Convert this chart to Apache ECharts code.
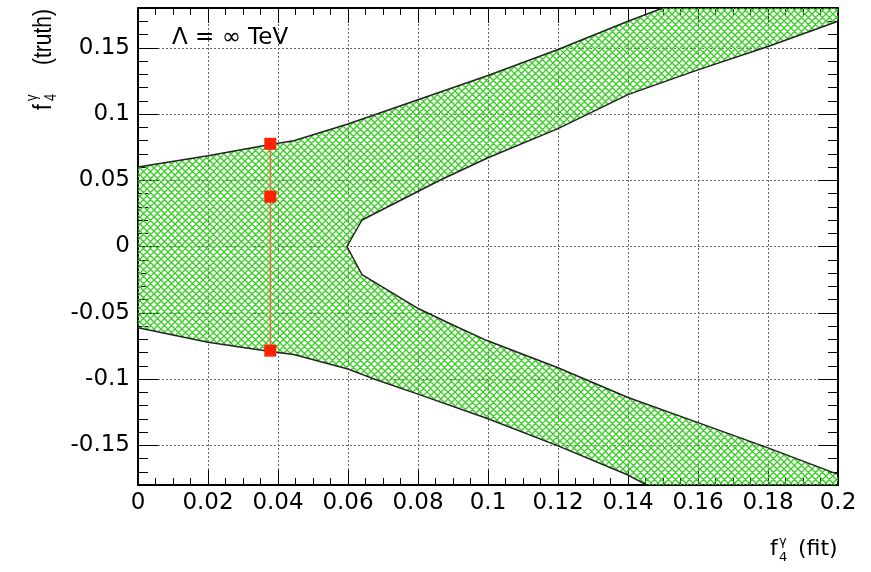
<!DOCTYPE html>
<html>
<head>
<meta charset="utf-8">
<script src="https://cdn.jsdelivr.net/npm/echarts@6/dist/echarts.min.js"></script>
<style>
html, body { margin: 0; padding: 0; background: #fff; }
#chart { width: 871px; height: 572px; }
</style>
</head>
<body>
<div id="chart"></div>
<script>
// Axis ranges and tick values
const xRange = [0, 0.2];
const yRange = [-0.18, 0.18];
const yMajorTicks = [-0.15, -0.1, -0.05, 0, 0.05, 0.1, 0.15];

// Outer upper edge of the allowed band (left to right)
const outerUpperX = [0, 0.02, 0.0378, 0.0445, 0.06, 0.08, 0.1, 0.12, 0.14, 0.150];
const outerUpperY = [0.060, 0.0685, 0.0770, 0.0798, 0.0925, 0.1108, 0.129, 0.1487, 0.170, 0.18];

// Inner edge, upper branch (right to the vertex)
const innerUpperX = [0.2, 0.18, 0.16, 0.1454, 0.14, 0.12, 0.1, 0.0864, 0.064, 0.0597];
const innerUpperY = [0.170, 0.151, 0.1333, 0.1197, 0.1146, 0.089, 0.067, 0.0502, 0.020, 0];

// Inner edge, lower branch (vertex to the right)
const innerLowerX = [0.0597, 0.064, 0.0802, 0.0892, 0.0997, 0.12, 0.14, 0.16, 0.18, 0.2];
const innerLowerY = [0, -0.0212, -0.047, -0.0583, -0.071, -0.0915, -0.114, -0.1329, -0.152, -0.172];

// Outer lower edge (right to left)
const outerLowerX = [0.1454, 0.14, 0.12, 0.1, 0.08, 0.0664, 0.06, 0.0445, 0.0378, 0.02, 0];
const outerLowerY = [-0.18, -0.1725, -0.1505, -0.130, -0.1114, -0.0990, -0.0924, -0.0815, -0.0792, -0.0723, -0.0614];

// Fitted point with its interval
const pointX = [0.0378, 0.0378, 0.0378];
const pointY = [0.0775, 0.0376, -0.0786];

const zip = (xs, ys) => xs.map((x, i) => [x, ys[i]]);

// Closed outline of the band, running along the frame where it is cut
const bandPoints = [].concat(
  zip(outerUpperX, outerUpperY),
  [[xRange[1], yRange[1]]],
  zip(innerUpperX, innerUpperY),
  zip(innerLowerX, innerLowerY).slice(1),
  [[xRange[1], yRange[0]]],
  zip(outerLowerX, outerLowerY)
);

// Green cross-hatch tile
function makeHatch() {
  const p = 7;
  const c = document.createElement('canvas');
  c.width = p; c.height = p;
  const g = c.getContext('2d');
  g.strokeStyle = '#3ccf28';
  g.lineWidth = 1.4;
  g.beginPath();
  for (let k = -1; k <= 1; k++) {
    g.moveTo(-p, -p + k * p); g.lineTo(2 * p, 2 * p + k * p);
    g.moveTo(-p, 2 * p + k * p); g.lineTo(2 * p, -p + k * p);
  }
  g.stroke();
  return c;
}
const hatch = { image: makeHatch(), repeat: 'repeat' };

const black = '#000';
const labelFont = { fontFamily: 'DejaVu Sans', fontSize: 23, color: black };
const gridLine = { show: true, lineStyle: { color: '#666', width: 1, type: [2, 2] } };
const frameLine = { show: true, onZero: false, lineStyle: { color: black, width: 2 } };

function xAxisDef(position, withLabels) {
  return {
    type: 'value', position: position, min: xRange[0], max: xRange[1], interval: 0.02,
    axisLine: frameLine,
    axisTick: { show: true, inside: true, length: 15, lineStyle: { color: black, width: 1 } },
    minorTick: { show: true, splitNumber: 4, length: 7, lineStyle: { color: black, width: 1 } },
    axisLabel: withLabels ? Object.assign({ show: true, margin: 7 }, labelFont) : { show: false },
    splitLine: withLabels ? gridLine : { show: false },
    minorSplitLine: { show: false }
  };
}
function yMajorDef(position, withLabels) {
  return {
    type: 'value', position: position, min: yRange[0], max: yRange[1],
    axisLine: frameLine,
    axisTick: { show: true, inside: true, length: 20, customValues: yMajorTicks, lineStyle: { color: black, width: 1 } },
    axisLabel: withLabels ? Object.assign({ show: true, margin: 8, customValues: yMajorTicks }, labelFont) : { show: false },
    splitLine: withLabels ? gridLine : { show: false }
  };
}
function yMinorDef(position) {
  return {
    type: 'value', position: position, min: yRange[0], max: yRange[1], interval: 0.01,
    axisLine: { show: false, onZero: false },
    axisTick: { show: true, inside: true, length: 10, lineStyle: { color: black, width: 1 } },
    axisLabel: { show: false },
    splitLine: { show: false }
  };
}

const chart = echarts.init(document.getElementById('chart'), null, { renderer: 'canvas' });

const titleStyle = (text, size, family) => ({ text: text, fontSize: size, fontFamily: family, fill: black });

chart.setOption({
  animation: false,
  backgroundColor: '#fff',
  grid: { left: 138, right: 33, top: 8, bottom: 87, containLabel: false, outerBoundsMode: 'none' },
  xAxis: [xAxisDef('bottom', true), xAxisDef('top', false)],
  yAxis: [yMajorDef('left', true), yMajorDef('right', false), yMinorDef('left'), yMinorDef('right')],
  series: [
    {
      type: 'custom', coordinateSystem: 'cartesian2d', xAxisIndex: 0, yAxisIndex: 0,
      silent: true, z: 1, clip: true,
      data: [[0, 0]],
      renderItem: function (params, api) {
        return {
          type: 'polygon',
          shape: { points: bandPoints.map(p => api.coord(p)) },
          style: { fill: hatch, stroke: null }
        };
      }
    },
    {
      type: 'line', data: zip(outerUpperX, outerUpperY), showSymbol: false, silent: true, z: 3,
      lineStyle: { color: '#222', width: 1.5 }
    },
    {
      type: 'line', data: zip(innerUpperX, innerUpperY).concat(zip(innerLowerX, innerLowerY).slice(1)),
      showSymbol: false, silent: true, z: 3,
      lineStyle: { color: '#222', width: 1.5 }
    },
    {
      type: 'line', data: zip(outerLowerX, outerLowerY), showSymbol: false, silent: true, z: 3,
      lineStyle: { color: '#222', width: 1.5 }
    },
    {
      type: 'line', data: zip(pointX, pointY), symbol: 'rect', symbolSize: 12, showSymbol: true,
      silent: true, z: 5,
      itemStyle: { color: '#ff2200' },
      lineStyle: { color: '#f06a4c', width: 1.5 }
    }
  ],
  graphic: [
    {
      type: 'text', left: 172, top: 27, z: 10,
      style: titleStyle('Λ = ∞ TeV', 23, 'DejaVu Sans')
    },
    {
      type: 'group', x: 770, y: 538, z: 10,
      children: [
        { type: 'text', x: 0, y: 0, style: Object.assign(titleStyle('f', 22, 'DejaVu Sans'), { verticalAlign: 'top' }) },
        { type: 'text', x: 9, y: -3, style: Object.assign(titleStyle('γ', 13, 'DejaVu Sans'), { verticalAlign: 'top' }) },
        { type: 'text', x: 9, y: 13, style: Object.assign(titleStyle('4', 13, 'DejaVu Sans'), { verticalAlign: 'top' }) },
        { type: 'text', x: 28, y: 0, style: Object.assign(titleStyle('(fit)', 22, 'DejaVu Sans'), { verticalAlign: 'top' }) }
      ]
    },
    {
      type: 'group', x: 44, y: 110, rotation: Math.PI / 2, scaleY: 1.25, z: 10,
      children: [
        { type: 'text', x: 0, y: 0, style: Object.assign(titleStyle('f', 21, 'Liberation Sans'), { verticalAlign: 'middle' }) },
        { type: 'text', x: 9, y: -9, style: Object.assign(titleStyle('γ', 13, 'Liberation Sans'), { verticalAlign: 'middle' }) },
        { type: 'text', x: 9, y: 6.4, style: Object.assign(titleStyle('4', 13, 'Liberation Sans'), { verticalAlign: 'middle' }) },
        { type: 'text', x: 45, y: 0, style: Object.assign(titleStyle('(truth)', 21, 'Liberation Sans'), { verticalAlign: 'middle' }) }
      ]
    }
  ]
});
</script>
</body>
</html>
